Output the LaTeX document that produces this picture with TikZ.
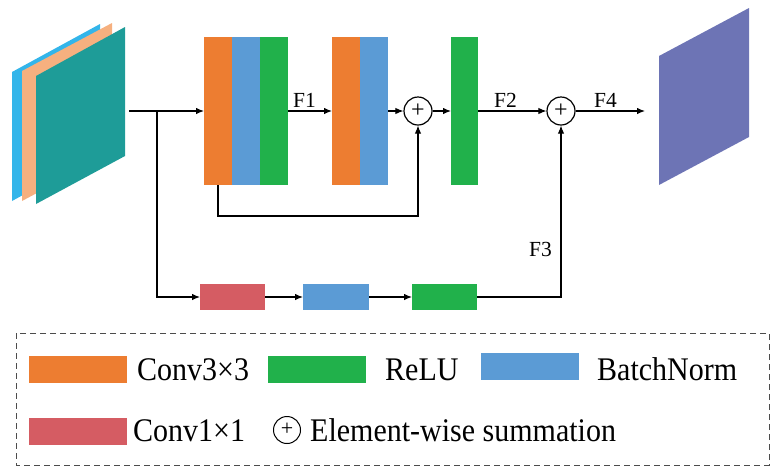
\documentclass[tikz,border=0pt]{standalone}
\usepackage{fontspec}
\setmainfont{Liberation Serif}
\usetikzlibrary{arrows.meta}

\definecolor{convorange}{HTML}{ED7D31}
\definecolor{bnblue}{HTML}{5B9BD5}
\definecolor{relugreen}{HTML}{21B14B}
\definecolor{convred}{HTML}{D55C63}
\definecolor{mapsky}{HTML}{33B5EA}
\definecolor{mappeach}{HTML}{F6B07F}
\definecolor{mapteal}{HTML}{1E9C98}
\definecolor{mappurple}{HTML}{6D74B5}

% legend captions are set a little taller than wide
\newcommand{\tallword}[1]{\scalebox{1}[1.1]{#1}}

\tikzset{
  block/.style={rectangle, draw=none, inner sep=0pt, outer sep=0pt},
  tallblock/.style={block, minimum width=28pt, minimum height=148pt},
  flatblock/.style={block, minimum width=65pt, minimum height=26pt},
  keyblock/.style={block, minimum width=98pt, minimum height=27pt},
  sumnode/.style={circle, draw=black, line width=1.2pt, fill=white, minimum size=28pt,
                  inner sep=0pt, font=\fontsize{24}{24}\selectfont},
  flow/.style={line width=1.1pt, -{Latex[length=8pt,width=6.5pt]}},
  flabel/.style={inner sep=0pt, anchor=base west, font=\fontsize{21.5}{21.5}\selectfont},
  keytext/.style={inner sep=0pt, anchor=base west, font=\fontsize{30}{30}\selectfont},
}

\begin{document}
\begin{tikzpicture}[x=1pt, y=-1pt]
\useasboundingbox (0,0) rectangle (771,467);

% input feature maps
\fill[mapsky]    (12,72) -- (100,24) -- (100,153) -- (12,201) -- cycle;
\fill[mappeach]  (22,71) -- (112,23) -- (112,153) -- (22,201) -- cycle;
\fill[mapteal]   (36,76) -- (125,27) -- (125,156) -- (36,204) -- cycle;

% output feature map
\fill[mappurple] (659,56) -- (749,8) -- (749,137) -- (659,185) -- cycle;

% main branch
\node[tallblock, fill=convorange] (c1) at (218,111) {};
\node[tallblock, fill=bnblue] (b1) at (246,111) {};
\node[tallblock, fill=relugreen] (r1) at (274,111) {};

\node[tallblock, fill=convorange] (c2) at (346,111) {};
\node[tallblock, fill=bnblue] (b2) at (374,111) {};

\node[sumnode] (s1) at (418,111) {\raisebox{1.5pt}{+}};

\node[tallblock, fill=relugreen, minimum width=27pt] (r2) at (464.5,111) {};

\node[sumnode] (s2) at (561,111) {\raisebox{1.5pt}{+}};

% lower branch
\node[flatblock, fill=convred] (k1) at (232.5,297) {};
\node[flatblock, fill=bnblue, minimum width=66pt] (b3) at (336,297) {};
\node[flatblock, fill=relugreen] (r3) at (444.5,297) {};

\coordinate (in) at (129,111);
\coordinate (br) at (157,111);
\coordinate (outp) at (645,111);

% connectors
\draw[flow] (in) -- (c1.west);
\draw[flow] (br) |- (k1.west);
\draw[flow] (r1.east) -- (c2.west);
\draw[flow] (b2.east) -- (s1.west);
\draw[flow] (s1.east) -- (r2.west);
\draw[flow] (r2.east) -- (s2.west);
\draw[flow] (s2.east) -- (outp);
\draw[flow] (c1.south) -- ++(0,31) -| (s1.south);
\draw[flow] (k1.east) -- (b3.west);
\draw[flow] (b3.east) -- (r3.west);
\draw[flow] (r3.east) -| (s2.south);

% feature labels
\node[flabel] (f1) at (293,107) {F1};
\node[flabel] (f2) at (494,107) {F2};
\node[flabel] (f4) at (594,107) {F4};
\node[flabel] (f3) at (529,256) {F3};

% legend
\draw[line width=1pt, draw=black!70, dash pattern=on 6pt off 4pt]
  (16,333) rectangle (769,465);

\node[keyblock, fill=convorange] (kc3) at (78,369) {};
\node[keytext] (tc3) at (137,380) {\tallword{Conv3×3}};
\node[keyblock, fill=relugreen] (kre) at (317,369) {};
\node[keytext] (tre) at (385,380) {\tallword{ReLU}};
\node[keyblock, fill=bnblue] (kbn) at (530,366.5) {};
\node[keytext] (tbn) at (597,380) {\tallword{BatchNorm}};

\node[keyblock, fill=convred] (kc1) at (78,431.5) {};
\node[keytext] (tc1) at (133,441) {\tallword{Conv1×1}};
\node[sumnode, minimum size=27pt, line width=1pt, font=\fontsize{22}{22}\selectfont] (ks) at (287,430) {\raisebox{1.5pt}{+}};
\node[keytext] (tsum) at (310,441) {\tallword{Element-wise summation}};
\end{tikzpicture}
\end{document}
